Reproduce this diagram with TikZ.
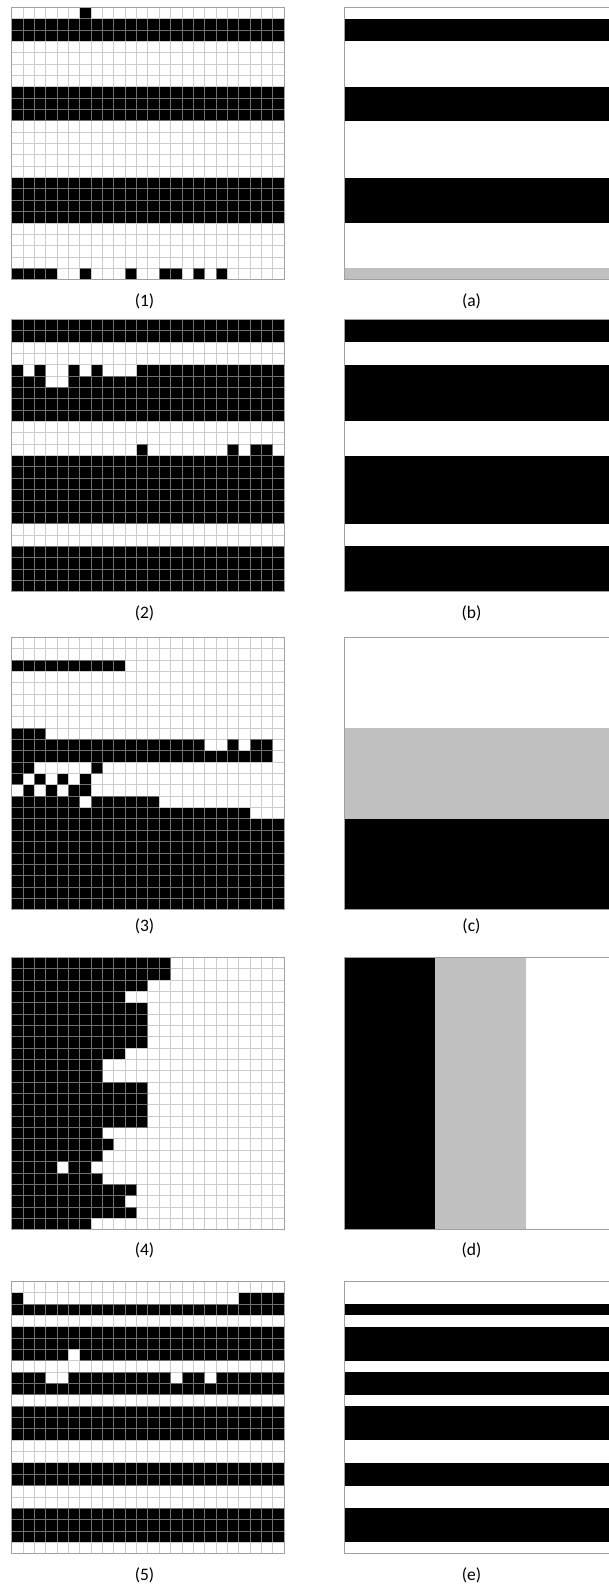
\documentclass[tikz,border=0pt]{standalone}
\usepackage{fontspec}
\setmainfont{Carlito}
\definecolor{framegray}{RGB}{160,160,160}
\definecolor{midgray}{RGB}{192,192,192}
\tikzset{
  lineA/.style={draw=white, opacity=0.55, line width=0.9pt},
  lineB/.style={draw=black, opacity=0.2, line width=0.9pt},
  frame/.style={draw=framegray, line width=1pt},
  caption/.style={font=\fontsize{17.5}{19}\selectfont, inner sep=0pt},
}
\newcommand\cs{11.35}
\newcommand\pixgrid[3]{%
 \begin{scope}[shift={(#1,#2)}]
   \fill[white] (0,0) rectangle (24*\cs,24*\cs);
   \foreach \r/\a/\b in {#3}{\fill[black] (\a*\cs,\r*\cs) rectangle ({(\b+1)*\cs},{(\r+1)*\cs});}
   \draw[lineA] foreach \i in {1,...,23}{(\i*\cs,0) -- (\i*\cs,24*\cs) (0,\i*\cs) -- (24*\cs,\i*\cs)};
   \draw[lineB] foreach \i in {1,...,23}{(\i*\cs,0) -- (\i*\cs,24*\cs) (0,\i*\cs) -- (24*\cs,\i*\cs)};
   \draw[frame] (0,0) rectangle (24*\cs,24*\cs);
 \end{scope}}
\newcommand\rowpanel[4]{% x, y, black runs, gray runs
 \begin{scope}[shift={(#1,#2)}]
   \fill[white] (0,0) rectangle (24*\cs,24*\cs);
   \foreach \a/\b in {#3}{\fill[black] (0,\a*\cs) rectangle (24*\cs,{(\b+1)*\cs});}
   \foreach \a/\b in {#4}{\fill[midgray] (0,\a*\cs) rectangle (24*\cs,{(\b+1)*\cs});}
   \draw[frame] (0,0) rectangle (24*\cs,24*\cs);
 \end{scope}}
\begin{document}
\begin{tikzpicture}[x=1pt,y=-1pt]
\useasboundingbox[fill=white] (0,0) rectangle (608,1590);
% ---------- left grids ----------
\pixgrid{11.7}{7.3}{0/6/6,1/0/23,2/0/23,7/0/23,8/0/23,9/0/23,15/0/23,16/0/23,17/0/23,18/0/23,23/0/3,23/6/6,23/10/10,23/13/14,23/16/16,23/18/18}
\pixgrid{11.7}{319.3}{0/0/23,1/0/23,4/0/0,4/2/2,4/5/5,4/7/7,4/11/23,5/0/2,5/5/23,6/0/23,7/0/23,8/0/23,11/11/11,11/19/19,11/21/22,12/0/23,13/0/23,14/0/23,15/0/23,16/0/23,17/0/23,20/0/23,21/0/23,22/0/23,23/0/23}
\pixgrid{11.7}{637.3}{2/0/9,8/0/2,9/0/16,9/19/19,9/21/22,10/0/22,11/0/1,11/7/7,12/0/0,12/2/2,12/4/4,12/6/6,13/1/1,13/3/3,13/5/6,14/0/5,14/7/12,15/0/20,16/0/23,17/0/23,18/0/23,19/0/23,20/0/23,21/0/23,22/0/23,23/0/23}
\pixgrid{11.7}{957.3}{0/0/13,1/0/13,2/0/11,3/0/9,4/0/11,5/0/11,6/0/11,7/0/11,8/0/9,9/0/7,10/0/7,11/0/11,12/0/11,13/0/11,14/0/11,15/0/7,16/0/8,17/0/7,18/0/3,18/5/6,19/0/7,20/0/10,21/0/9,22/0/10,23/0/6}
\pixgrid{11.7}{1281.3}{1/0/0,1/20/23,2/0/23,4/0/23,5/0/23,6/0/4,6/6/23,8/0/2,8/5/13,8/15/16,8/18/23,9/0/23,11/0/23,12/0/23,13/0/23,16/0/23,17/0/23,20/0/23,21/0/23,22/0/23}
% ---------- right panels ----------
\rowpanel{344}{7.3}{1/2,7/9,15/18}{23/23}
\rowpanel{344}{319.3}{0/1,4/8,12/17,20/23}{}
\rowpanel{344}{637.3}{16/23}{8/15}
\begin{scope}[shift={(344,957.3)}]
  \fill[white] (0,0) rectangle (24*\cs,24*\cs);
  \fill[black] (0,0) rectangle (8*\cs,24*\cs);
  \fill[midgray] (8*\cs,0) rectangle (16*\cs,24*\cs);
  \draw[frame] (0,0) rectangle (24*\cs,24*\cs);
\end{scope}
\rowpanel{344}{1281.3}{2/2,4/6,8/9,11/13,16/17,20/22}{}
% ---------- captions ----------
\node[caption] (l1) at (144.5,301) {(1)};
\node[caption] (l2) at (144.5,613) {(2)};
\node[caption] (l3) at (144.5,926) {(3)};
\node[caption] (l4) at (144.5,1250) {(4)};
\node[caption] (l5) at (144.5,1575) {(5)};
\node[caption] (la) at (471.5,301) {(a)};
\node[caption] (lb) at (471.5,613) {(b)};
\node[caption] (lc) at (471.5,926) {(c)};
\node[caption] (ld) at (471.5,1250) {(d)};
\node[caption] (le) at (471.5,1575) {(e)};
\end{tikzpicture}
\end{document}
